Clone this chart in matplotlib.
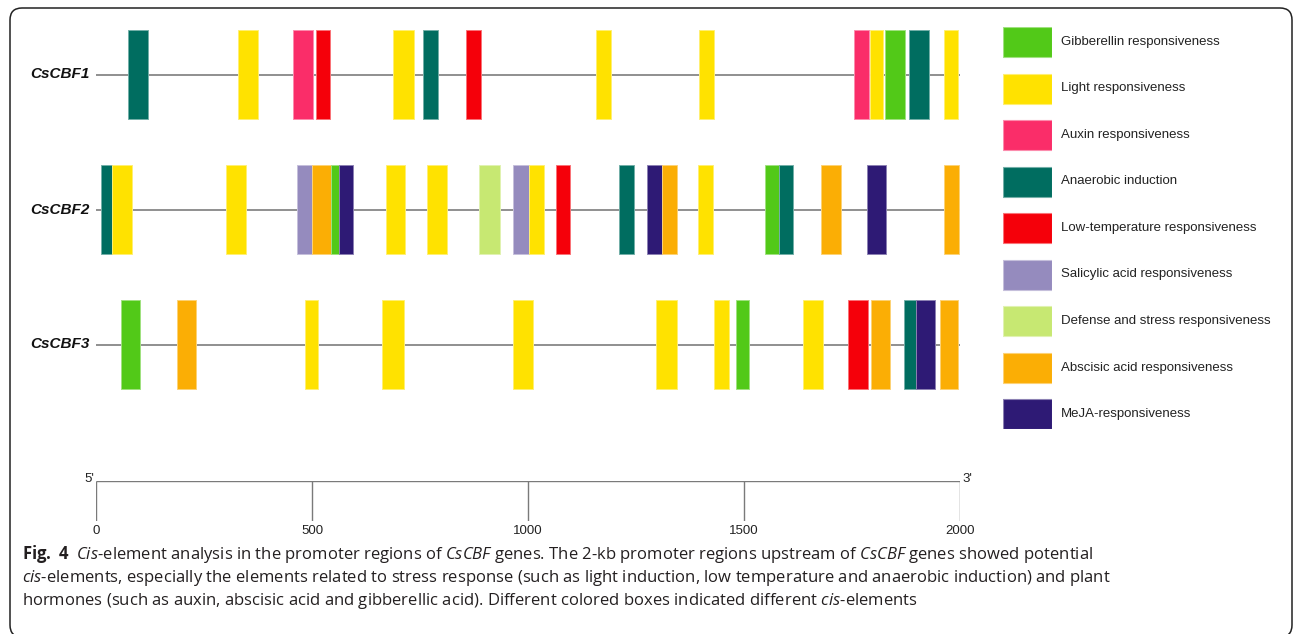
import matplotlib.pyplot as plt
import matplotlib.colors as mcolors
from matplotlib.patches import FancyBboxPatch
from matplotlib.transforms import IdentityTransform

# cis-element classes and their box colours
element_keys = ["GA", "light", "auxin", "anaerobic", "LT", "SA", "defense", "ABA", "MeJA"]
element_names = [
    "Gibberellin responsiveness",
    "Light responsiveness",
    "Auxin responsiveness",
    "Anaerobic induction",
    "Low-temperature responsiveness",
    "Salicylic acid responsiveness",
    "Defense and stress responsiveness",
    "Abscisic acid responsiveness",
    "MeJA-responsiveness",
]
element_colors = ["#52c918", "#ffe200", "#fa2d69", "#006d60", "#f5000a",
                  "#958bbe", "#c7e872", "#fbae05", "#2e1a75"]

genes = ["CsCBF1", "CsCBF2", "CsCBF3"]

# element start / end positions (bp upstream region, 0 = 5')
cbf1_start = [75, 329, 457, 509, 688, 758, 857, 1158, 1396, 1755, 1792, 1826, 1881, 1963]
cbf1_end = [120, 375, 502, 542, 736, 791, 891, 1192, 1430, 1789, 1822, 1872, 1928, 1996]
cbf1_type = ["anaerobic", "light", "auxin", "LT", "light", "anaerobic", "LT", "light",
             "light", "auxin", "light", "GA", "anaerobic", "light"]

cbf2_start = [12, 36, 301, 465, 500, 545, 562, 671, 767, 887, 966, 1003, 1065, 1211,
              1276, 1311, 1394, 1549, 1581, 1679, 1785, 1964]
cbf2_end = [36, 83, 347, 500, 545, 562, 596, 716, 813, 935, 1003, 1036, 1098, 1245,
            1311, 1345, 1428, 1581, 1613, 1724, 1828, 1998]
cbf2_type = ["anaerobic", "light", "light", "SA", "ABA", "GA", "MeJA", "light", "light",
             "defense", "SA", "light", "LT", "anaerobic", "MeJA", "ABA", "light", "GA",
             "anaerobic", "ABA", "MeJA", "ABA"]

cbf3_start = [57, 187, 483, 661, 965, 1296, 1431, 1481, 1636, 1740, 1794, 1870, 1897, 1953]
cbf3_end = [102, 231, 515, 713, 1012, 1344, 1465, 1512, 1683, 1787, 1838, 1900, 1941, 1996]
cbf3_type = ["GA", "ABA", "light", "light", "light", "light", "light", "GA", "light",
             "LT", "ABA", "anaerobic", "MeJA", "ABA"]

promoter_length = 2000
scale_ticks = [0, 500, 1000, 1500, 2000]

caption_lines = [
    r"$\mathbf{Fig.\ 4}$  $\mathit{Cis}$-element analysis in the promoter regions of "
    r"$\mathit{CsCBF}$ genes. The 2-kb promoter regions upstream of $\mathit{CsCBF}$ "
    r"genes showed potential",
    r"$\mathit{cis}$-elements, especially the elements related to stress response "
    r"(such as light induction, low temperature and anaerobic induction) and plant",
    r"hormones (such as auxin, abscisic acid and gibberellic acid). Different colored "
    r"boxes indicated different $\mathit{cis}$-elements",
]

plt.rcParams["mathtext.fontset"] = "custom"
plt.rcParams["mathtext.rm"] = "Open Sans"
plt.rcParams["mathtext.it"] = "Open Sans:italic"
plt.rcParams["mathtext.bf"] = "Open Sans:bold"

SANS = "Liberation Sans"

W, H = 1295, 634
fig = plt.figure(figsize=(W / 100, H / 100), dpi=100)
fig.patch.set_facecolor("white")


def px_axes(left, top, right, bottom):
    return fig.add_axes([left / W, 1 - bottom / H, (right - left) / W, (bottom - top) / H])


def lighter(c, amount=0.45):
    r, g, b = mcolors.to_rgb(c)
    return (r + (1 - r) * amount, g + (1 - g) * amount, b + (1 - b) * amount)


color_of = dict(zip(element_keys, element_colors))

# gene rows
row_px = 135.0
box_h = 89.0 / row_px
ax = px_axes(96, 20, 960, 400)
ax.set_xlim(0, promoter_length)
ax.set_ylim((400 - 74.5) / row_px, (20 - 74.5) / row_px)
ax.axis("off")

rows = [(cbf1_start, cbf1_end, cbf1_type),
        (cbf2_start, cbf2_end, cbf2_type),
        (cbf3_start, cbf3_end, cbf3_type)]
for i, (gene, (starts, ends, kinds)) in enumerate(zip(genes, rows)):
    ax.hlines(i, 0, promoter_length, color="#8f8f8f", lw=1.4, zorder=1)
    for s, e, k in zip(starts, ends, kinds):
        ax.bar(s, box_h, width=e - s, bottom=i - box_h / 2, align="edge",
               color=color_of[k], edgecolor=lighter(color_of[k]), linewidth=0.7, zorder=2)
    ax.annotate(gene, xy=(0, i), xytext=(-6, 0), textcoords="offset pixels",
                ha="right", va="center", fontsize=11, fontweight="bold",
                fontstyle="italic", family=SANS, color="#111111")

# 5' -> 3' scale bar
sax = px_axes(96, 481, 960, 521)
sax.set_xlim(0, promoter_length)
sax.set_ylim(0, 1)
sax.axis("off")
sax.hlines(1, 0, promoter_length, color="#7a7a7a", lw=1.0)
sax.vlines(scale_ticks, 0, 1, color="#7a7a7a", lw=1.0)
for t in scale_ticks:
    sax.text(t, -0.24, str(t), ha="center", va="center", fontsize=9.5,
             family=SANS, color="#222222", clip_on=False)
sax.annotate("5'", xy=(0, 1), xytext=(-2, -1), textcoords="offset pixels",
             ha="right", va="baseline", fontsize=9.5, family=SANS, color="#222222")
sax.annotate("3'", xy=(promoter_length, 1), xytext=(2, -1), textcoords="offset pixels",
             ha="left", va="baseline", fontsize=9.5, family=SANS, color="#222222")

# legend drawn as its own small axes: one row per element class
leg_pitch = 46.5
leg_box = 30.0
lax = px_axes(1003, 27, 1052, 27 + 8 * leg_pitch + leg_box)
lax.set_xlim(0, 1)
lax.set_ylim((8 * leg_pitch + leg_box) / leg_pitch, 0)
lax.axis("off")
for i, (name, c) in enumerate(zip(element_names, element_colors)):
    lax.barh(i, 1, height=leg_box / leg_pitch, left=0, align="edge",
             color=c, edgecolor=lighter(c), linewidth=0.8)
    lax.text(1 + 9 / 49, i + leg_box / leg_pitch / 2, name, ha="left", va="center",
             fontsize=9.5, family=SANS, color="#222222", clip_on=False)

# caption
for j, line in enumerate(caption_lines):
    fig.text(22 / W, 1 - (559 + 23 * j) / H, line, ha="left", va="baseline",
             fontsize=11.95, family="Open Sans", color="#231f20")

# rounded frame around the figure
frame = FancyBboxPatch((10, -3), 1282, 629, boxstyle="round,pad=0,rounding_size=12",
                       transform=IdentityTransform(), facecolor="none",
                       edgecolor="#222222", linewidth=1.1)
fig.add_artist(frame)

fig.savefig("out.png", dpi=100)
